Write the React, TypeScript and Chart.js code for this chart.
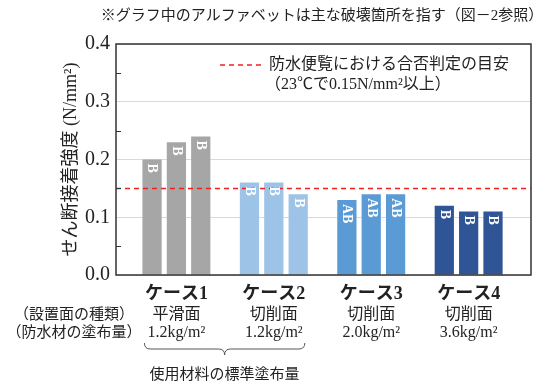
import React, { useEffect, useRef } from 'react';
import { Chart, registerables } from 'chart.js';

Chart.register(...registerables);

const CASES = ['ケース1', 'ケース2', 'ケース3', 'ケース4'];
const SURFACES = ['平滑面', '切削面', '切削面', '切削面'];
const COATINGS = ['1.2kg/m²', '1.2kg/m²', '2.0kg/m²', '3.6kg/m²'];
const SPECIMEN_1 = [0.2, 0.16, 0.13, 0.12];
const SPECIMEN_2 = [0.23, 0.16, 0.14, 0.11];
const SPECIMEN_3 = [0.24, 0.14, 0.14, 0.11];
const FAILURE_1 = ['B', 'B', 'AB', 'B'];
const FAILURE_2 = ['B', 'B', 'AB', 'B'];
const FAILURE_3 = ['B', 'B', 'AB', 'B'];
const CASE_COLORS = ['#a6a6a6', '#9dc3e6', '#5b9bd5', '#2f5597'];
const THRESHOLD = 0.15;
const Y_MIN = 0;
const Y_MAX = 0.4;
const Y_STEP = 0.1;
const Y_MINOR = [0.05, 0.15, 0.25, 0.35];
const X_MIN = -0.62;
const X_MAX = 3.64;
const TITLE = '※グラフ中のアルファベットは主な破壊箇所を指す（図－2参照）';
const LEGEND_LINES = ['防水便覧における合否判定の目安', '（23℃で0.15N/mm²以上）'];
const ROW_HEADERS = ['（設置面の種類）', '（防水材の塗布量）'];
const BRACE_LABEL = '使用材料の標準塗布量';
const Y_TITLE = 'せん断接着強度 (N/mm²)';

const SERIF = "'Liberation Serif', 'Noto Sans CJK JP', serif";
const TEXT = '#222';

const decor = {
  id: 'decor',
  afterDatasetsDraw(chart: any) {
    const { ctx } = chart;
    ctx.save();
    chart.data.datasets.forEach((ds: any, di: number) => {
      if (!ds.failure) return;
      const meta = chart.getDatasetMeta(di);
      meta.data.forEach((bar: any, i: number) => {
        ctx.save();
        ctx.translate(bar.x, bar.y + 4);
        ctx.rotate(Math.PI / 2);
        ctx.font = `bold 14px ${SERIF}`;
        ctx.fillStyle = '#ffffff';
        ctx.textAlign = 'left';
        ctx.textBaseline = 'middle';
        ctx.fillText(ds.failure[i], 0, 0);
        ctx.restore();
      });
    });
    ctx.restore();
  },
  afterDraw(chart: any) {
    const { ctx, chartArea, scales } = chart;
    const xs = scales.x;
    const ys = scales.y;
    const L = chartArea.left;
    const R = chartArea.right;
    const T = chartArea.top;
    const B = chartArea.bottom;
    ctx.save();
    ctx.setLineDash([]);
    ctx.globalAlpha = 1;

    // frame
    ctx.strokeStyle = '#333333';
    ctx.lineWidth = 1.5;
    ctx.beginPath();
    ctx.moveTo(L, T);
    ctx.lineTo(R, T);
    ctx.lineTo(R, B);
    ctx.lineTo(L, B);
    ctx.closePath();
    ctx.stroke();

    // minor inward ticks
    ctx.lineWidth = 1;
    Y_MINOR.forEach((v) => {
      const py = Math.round(ys.getPixelForValue(v)) + 0.5;
      ctx.beginPath();
      ctx.moveTo(L, py);
      ctx.lineTo(L + 5, py);
      ctx.stroke();
    });

    // title
    ctx.fillStyle = TEXT;
    ctx.font = `15px ${SERIF}`;
    ctx.textAlign = 'center';
    ctx.textBaseline = 'middle';
    ctx.fillText(TITLE, 322, T - 28);

    // legend
    const ly = T + 21;
    ctx.strokeStyle = '#f02020';
    ctx.lineWidth = 1.5;
    ctx.setLineDash([5, 4]);
    ctx.beginPath();
    ctx.moveTo(220, ly);
    ctx.lineTo(262, ly);
    ctx.stroke();
    ctx.setLineDash([]);
    ctx.fillStyle = TEXT;
    ctx.font = `16px ${SERIF}`;
    ctx.textAlign = 'left';
    ctx.fillText(LEGEND_LINES[0], 269, ly);
    ctx.fillText(LEGEND_LINES[1], 265, ly + 20);

    // rows under x axis
    const r1 = B + 40;
    const r2 = B + 58;
    ctx.font = `15px ${SERIF}`;
    ctx.textAlign = 'center';
    ctx.fillText(ROW_HEADERS[0], 74, r1);
    ctx.fillText(ROW_HEADERS[1], 74, r2);
    ctx.font = `16px ${SERIF}`;
    CASES.forEach((_, i) => {
      const px = xs.getPixelForValue(i);
      ctx.fillText(SURFACES[i], px, r1);
      ctx.fillText(COATINGS[i], px, r2);
    });

    // brace under case 1 & 2
    const bx0 = xs.getPixelForValue(0) - 32;
    const bx1 = xs.getPixelForValue(1) + 31;
    const bm = (bx0 + bx1) / 2;
    const by0 = B + 68;
    const by1 = B + 74;
    const by2 = B + 80;
    ctx.strokeStyle = '#555';
    ctx.lineWidth = 1;
    ctx.beginPath();
    ctx.moveTo(bx0, by0);
    ctx.quadraticCurveTo(bx0, by1, bx0 + 6, by1);
    ctx.lineTo(bm - 6, by1);
    ctx.quadraticCurveTo(bm, by1, bm, by2);
    ctx.quadraticCurveTo(bm, by1, bm + 6, by1);
    ctx.lineTo(bx1 - 6, by1);
    ctx.quadraticCurveTo(bx1, by1, bx1, by0);
    ctx.stroke();
    ctx.font = `15px ${SERIF}`;
    ctx.fillStyle = TEXT;
    ctx.fillText(BRACE_LABEL, bm, B + 100);

    ctx.restore();
  },
};

export default function App() {
  const ref = useRef<HTMLCanvasElement | null>(null);

  useEffect(() => {
    if (!ref.current) return;
    const barSet = (vals: number[], failure: string[]) => ({
      type: 'bar' as const,
      data: vals.map((v, i) => ({ x: i, y: v })),
      backgroundColor: CASE_COLORS,
      borderWidth: 0,
      categoryPercentage: 0.75,
      barPercentage: 0.79,
      order: 1,
      failure,
    });
    const chart = new Chart(ref.current, {
      type: 'bar',
      data: {
        datasets: [
          barSet(SPECIMEN_1, FAILURE_1),
          barSet(SPECIMEN_2, FAILURE_2),
          barSet(SPECIMEN_3, FAILURE_3),
          {
            type: 'line',
            data: [
              { x: X_MIN, y: THRESHOLD },
              { x: X_MAX, y: THRESHOLD },
            ],
            borderColor: '#f02020',
            borderWidth: 1.5,
            borderDash: [5, 4],
            pointRadius: 0,
            fill: false,
            order: 0,
          } as any,
        ],
      },
      options: {
        responsive: false,
        animation: false,
        devicePixelRatio: 1,
        layout: { padding: { top: 44, right: 19, left: 0, bottom: 0 } },
        plugins: {
          legend: { display: false },
          tooltip: { enabled: false },
          title: { display: false },
        },
        scales: {
          x: {
            type: 'linear',
            offset: false,
            min: X_MIN,
            max: X_MAX,
            grid: { display: false, drawTicks: false, offset: false },
            border: { display: false },
            afterBuildTicks: (scale: any) => {
              scale.ticks = CASES.map((_, i) => ({ value: i }));
            },
            afterFit: (scale: any) => {
              scale.height = 113;
            },
            ticks: {
              autoSkip: false,
              maxRotation: 0,
              padding: 9,
              color: TEXT,
              font: { family: SERIF, size: 18, weight: 'bold' },
              callback: (v: any) => CASES[Math.round(Number(v))] ?? '',
            },
          },
          y: {
            type: 'linear',
            min: Y_MIN,
            max: Y_MAX,
            grid: { color: '#d9d9d9', lineWidth: 1, drawTicks: false },
            border: { display: false },
            afterFit: (scale: any) => {
              scale.width = 116;
            },
            ticks: {
              stepSize: Y_STEP,
              padding: 6,
              color: TEXT,
              font: { family: SERIF, size: 20 },
              callback: (v: any) => Number(v).toFixed(1),
            },
            title: {
              display: true,
              text: Y_TITLE,
              color: TEXT,
              font: { family: SERIF, size: 18 },
              padding: { top: 60, bottom: 0 },
            },
          },
        },
      } as any,
      plugins: [decor],
    });
    return () => chart.destroy();
  }, []);

  return (
    <div style={{ position: 'fixed', left: 0, top: 0, width: 550, height: 388, background: '#fff' }}>
      <canvas ref={ref} width={550} height={388} />
    </div>
  );
}
